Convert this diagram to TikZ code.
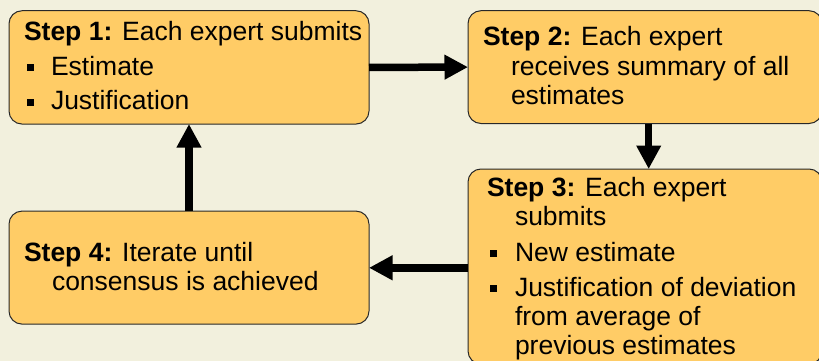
\documentclass[tikz,border=0pt]{standalone}
\usepackage{fontspec}
\setmainfont{Liberation Sans}
\usetikzlibrary{arrows.meta}
\definecolor{pagebg}{RGB}{242,240,221}
\definecolor{boxfill}{RGB}{255,204,102}
\definecolor{boxline}{RGB}{40,40,40}
\begin{document}
\begin{tikzpicture}[x=1pt,y=-1pt,
  stepbox/.style={draw=boxline, line width=1pt, fill=boxfill, rounded corners=13pt,
                  inner sep=0pt, outer sep=0pt},
  txt/.style={anchor=base west, inner sep=0pt, outer sep=0pt,
              font=\fontsize{26.5}{30}\selectfont},
  bullet/.style={fill=black, inner sep=0pt, minimum size=7pt, anchor=center},
  flow/.style={line width=7.5pt, line cap=butt,
               -{Triangle[length=23.5pt,width=23.5pt]}}]
  % page and frame
  \fill[pagebg] (0,0) rectangle (819,361);
  \useasboundingbox (0,0) rectangle (819,361);
  \clip (0,0) rectangle (819,361);

  % the four step boxes
  \node[stepbox, minimum width=360pt, minimum height=113.3pt] (s1) at (189,67.4) {};
  \node[stepbox, minimum width=354pt, minimum height=112.8pt] (s2) at (645,67.1) {};
  \node[stepbox, minimum width=354pt, minimum height=195pt]   (s3) at (645,266.5) {};
  \node[stepbox, minimum width=360pt, minimum height=113pt]   (s4) at (189,267.6) {};

  % connectors
  \draw[flow] (s1.east) -- (s2.west);
  \draw[flow] ([xshift=3.7pt]s2.south) -- ([xshift=3.7pt]s2.south |- s3.north);
  \draw[flow] (s4.east -| s3.west) ++(0,0.2) -- ([yshift=-0.2pt]s4.east);
  \draw[flow] (s4.north) -- (s1.south);

  % step 1
  \node[txt] (t1a) at (24,40.5) {\textbf{Step 1:} Each expert submits};
  \node[bullet] (b1a) at (30.5,67.5) {};
  \node[txt] (t1b) at (51,75.3) {Estimate};
  \node[bullet] (b1b) at (30.5,102.2) {};
  \node[txt] (t1c) at (51,110) {Justification};

  % step 2
  \node[txt] (t2a) at (483,46) {\textbf{Step 2:} Each expert};
  \node[txt] (t2b) at (511,75.3) {receives summary of all};
  \node[txt] (t2c) at (511,104.5) {estimates};

  % step 3
  \node[txt] (t3a) at (487,196) {\textbf{Step 3:} Each expert};
  \node[txt] (t3b) at (515,225.7) {submits};
  \node[bullet] (b3a) at (493.5,253) {};
  \node[txt] (t3c) at (515,261) {New estimate};
  \node[bullet] (b3b) at (493.5,288.7) {};
  \node[txt] (t3d) at (515,296.7) {Justification of deviation};
  \node[txt] (t3e) at (515,325.7) {from average of};
  \node[txt] (t3f) at (515,354.5) {previous estimates};

  % step 4
  \node[txt] (t4a) at (24,261.7) {\textbf{Step 4:} Iterate until};
  \node[txt] (t4b) at (52,290) {consensus is achieved};
\end{tikzpicture}
\end{document}
